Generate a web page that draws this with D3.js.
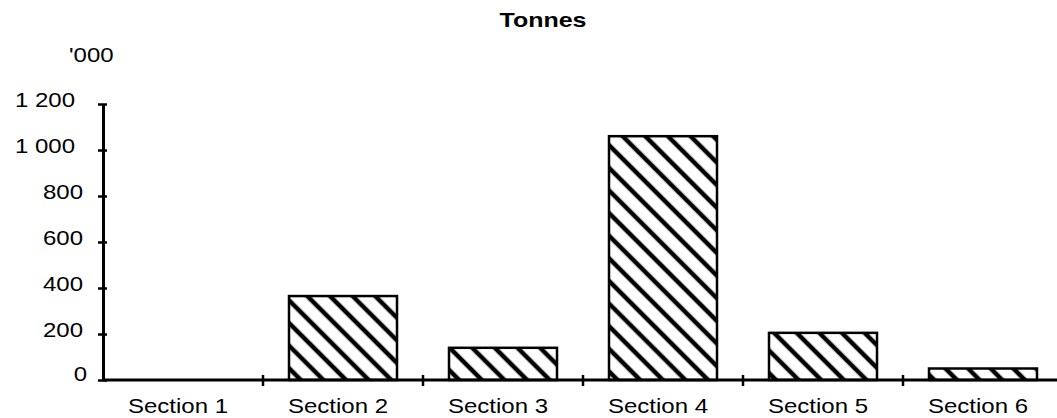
<!DOCTYPE html>
<html lang="en">
<head>
    <meta charset="UTF-8">
    <title>Tonnes by section</title>
    <script src="https://d3js.org/d3.v7.min.js"></script>
    <style>
        body { margin: 0; background: #fff; }
        text { font-family: "Liberation Sans", Arial, sans-serif; fill: #000; }
    </style>
</head>
<body>
    <div id="chart-container"></div>

    <script>
        const sections = ["Section 1", "Section 2", "Section 3", "Section 4", "Section 5", "Section 6"];
        const tonnes = [0, 365, 140, 1060, 205, 50];
        const yTicks = [0, 200, 400, 600, 800, 1000, 1200];

        const containerWidth = 1057;
        const containerHeight = 418;
        const stretch = "scale(1.2,1)"; // the scanned lettering is wide

        const svg = d3.select("#chart-container")
            .append("svg")
            .attr("width", containerWidth)
            .attr("height", containerHeight);

        // hatch fill for the bars
        svg.append("defs")
            .append("pattern")
            .attr("id", "hatch")
            .attr("patternUnits", "userSpaceOnUse")
            .attr("width", 16)
            .attr("height", 16)
            .attr("patternTransform", "rotate(-45)")
            .append("line")
            .attr("x1", 8).attr("y1", 0)
            .attr("x2", 8).attr("y2", 16)
            .attr("stroke", "#000")
            .attr("stroke-width", 4.5);

        const x = d3.scaleBand()
            .domain(sections)
            .range([103, 1063])
            .paddingInner(0.325)
            .paddingOuter(0.1625);

        const y = d3.scaleLinear()
            .domain([0, 1200])
            .range([380, 104]);

        // bars
        svg.selectAll(".bar")
            .data(sections.map((s, i) => ({ section: s, value: tonnes[i] })).filter(d => d.value > 0))
            .enter()
            .append("rect")
            .attr("class", "bar")
            .attr("x", d => x(d.section))
            .attr("y", d => y(d.value))
            .attr("width", x.bandwidth())
            .attr("height", d => y(0) - y(d.value))
            .attr("fill", "url(#hatch)")
            .attr("stroke", "#000")
            .attr("stroke-width", 2.5);

        // y axis
        const yAxis = svg.append("g")
            .attr("class", "axis axis-y")
            .attr("transform", "translate(103,0)")
            .call(d3.axisLeft(y)
                .tickValues(yTicks)
                .tickSize(0)
                .tickFormat(d => d3.format(",")(d).replace(",", " ")));
        yAxis.select(".domain").attr("stroke", "#000").attr("stroke-width", 3);
        yAxis.selectAll(".tick line")
            .attr("x1", -5).attr("x2", 4)
            .attr("stroke", "#000").attr("stroke-width", 2.5);
        yAxis.selectAll(".tick text")
            .attr("x", 0)
            .attr("dy", d => d === 0 ? 0 : 2)
            .attr("transform", d => `translate(${d >= 1000 ? -28 : d === 0 ? -16 : -20},0) ${stretch}`)
            .style("font-size", "20px");

        // x axis, ticks sit on the band boundaries
        const bounds = d3.range(1, sections.length).map(i => x.range()[0] + i * x.step());
        const xAxis = svg.append("g")
            .attr("class", "axis axis-x");
        xAxis.append("line")
            .attr("x1", 103).attr("x2", containerWidth)
            .attr("y1", y(0)).attr("y2", y(0))
            .attr("stroke", "#000").attr("stroke-width", 3);
        xAxis.selectAll(".xtick")
            .data(bounds)
            .enter()
            .append("line")
            .attr("class", "xtick")
            .attr("x1", d => d).attr("x2", d => d)
            .attr("y1", y(0) - 5).attr("y2", y(0) + 6)
            .attr("stroke", "#000").attr("stroke-width", 2.5);
        xAxis.selectAll(".xlabel")
            .data(sections)
            .enter()
            .append("text")
            .attr("class", "xlabel")
            .attr("transform", d => `translate(${x(d) + x.bandwidth() / 2 - 5},413) ${stretch}`)
            .attr("text-anchor", "middle")
            .style("font-size", "20px")
            .text(d => d);

        // title and unit
        svg.append("text")
            .attr("transform", `translate(543,27) scale(1.19,1)`)
            .attr("text-anchor", "middle")
            .style("font-size", "21px")
            .style("font-weight", "bold")
            .text("Tonnes");

        svg.append("text")
            .attr("transform", `translate(69,62) ${stretch}`)
            .style("font-size", "20px")
            .text("'000");
    </script>
</body>
</html>
